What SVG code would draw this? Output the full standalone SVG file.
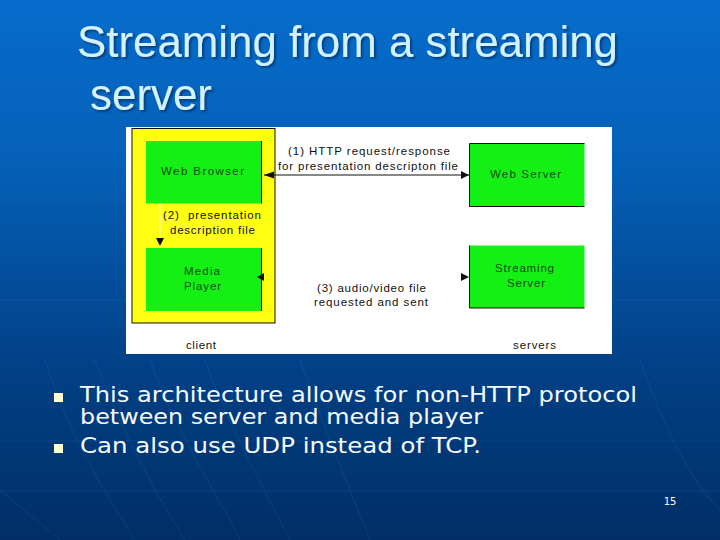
<svg xmlns="http://www.w3.org/2000/svg" width="720" height="540" viewBox="0 0 720 540">
<style>
.d{font-family:"Liberation Sans",sans-serif;font-size:11.500px;fill:#111;lengthAdjust:spacing}
.g{fill:#14f014}
.n{fill:#0c4a10}
.t{font-family:"Liberation Sans",sans-serif;font-size:44px;fill:#d2f2ff;filter:url(#s)}
.b{font-family:"DejaVu Sans",sans-serif;font-size:22px;fill:#f6fbff}
.e{stroke:#111;stroke-width:1;fill:none}
</style>
<defs>
<linearGradient id="bg" x1="0" y1="0" x2="0" y2="1">
<stop offset="0" stop-color="#066ccc"/><stop offset=".3" stop-color="#0560b8"/><stop offset=".7" stop-color="#023f84"/><stop offset="1" stop-color="#012e66"/>
</linearGradient>
<filter id="s" x="-5%" y="-5%" width="110%" height="120%"><feDropShadow dx="2" dy="2" stdDeviation="0.8" flood-color="#033a7a" flood-opacity=".9"/></filter>
<marker id="a" markerUnits="userSpaceOnUse" markerWidth="9" markerHeight="9" refX="8" refY="4" orient="auto"><path d="M0 0L8 4L0 8Z" fill="#111"/></marker>
</defs>
<rect width="720" height="540" fill="url(#bg)"/>
<g fill="none" stroke="#2a78c4" stroke-opacity=".22">
<path d="M45 360C70 440 110 500 135 540M95 360C125 440 160 500 185 540M150 360C175 430 215 490 240 540M205 360C230 430 265 490 290 540M300 360C325 430 350 490 370 540M0 490L60 540M640 360C665 430 690 480 720 510"/>
<path d="M0 441H720M0 491H720M612 200H720M612 300H720M0 200H126M0 300H126"/>
</g>
<g id="figure">
<rect x="126" y="127" width="486" height="227" fill="#fff"/>
<rect x="132" y="128.500" width="143" height="194.500" fill="#ffff14" stroke="#111"/>
</g>
<g id="web-browser"><path class="g" d="M146 141H261.500V203.500H146Z"/><path class="e" d="M261.500 141V203.500"/><text class="d n" x="161" y="175" textLength="83">Web Browser</text></g>
<g id="media-player"><path class="g" d="M146 248H261.500V311H146Z"/><path class="e" d="M261.500 248V311"/><text class="d n" x="184" y="275" textLength="36">Media</text><text class="d n" x="184" y="290" textLength="37">Player</text></g>
<g id="web-server"><rect class="g" x="469.500" y="143.500" width="115" height="63"/><path class="e" d="M469.500 206.500V143.500H584.500M469.500 206.500H584.500"/><text class="d n" x="490" y="178" textLength="71">Web Server</text></g>
<g id="streaming-server"><rect class="g" x="469.500" y="245.500" width="115" height="62.500"/><path class="e" d="M469.500 245.500V308H584.500"/><text class="d n" x="495" y="272" textLength="59">Streaming</text><text class="d n" x="507" y="287" textLength="38">Server</text></g>
<g id="connectors">
<path d="M264 175H469" class="e" marker-end="url(#a)"/>
<path d="M264 175L274 171.500V178.500Z" fill="#111"/>
<path d="M160 204V246" stroke="#ffffa8" fill="none" marker-end="url(#a)"/>
<path d="M264 273V281L257 277Z" fill="#111"/>
<path d="M461 273V281L469 277Z" fill="#111"/>
</g>
<g id="labels">
<text class="d" x="288" y="155" textLength="162">(1) HTTP request/response</text>
<text class="d" x="278" y="170" textLength="180">for presentation descripton file</text>
<text class="d" x="163" y="219" textLength="98" xml:space="preserve">(2)  presentation</text>
<text class="d" x="170" y="234" textLength="85">description file</text>
<text class="d" x="317" y="292" textLength="109">(3) audio/video file</text>
<text class="d" x="314" y="306" textLength="114">requested and sent</text>
<text class="d" x="186" y="349" textLength="30">client</text>
<text class="d" x="513" y="349" textLength="43">servers</text>
</g>
<text class="t" x="77" y="57" textLength="541" lengthAdjust="spacingAndGlyphs">Streaming from a streaming</text>
<text class="t" x="90" y="110" textLength="122" lengthAdjust="spacingAndGlyphs">server</text>
<rect x="54" y="393" width="9" height="9" fill="#ffffd0"/>
<rect x="54" y="444" width="9" height="9" fill="#ffffd0"/>
<text class="b" x="80" y="402" textLength="557" lengthAdjust="spacingAndGlyphs">This architecture allows for non-HTTP protocol</text>
<text class="b" x="80" y="424" textLength="403" lengthAdjust="spacingAndGlyphs">between server and media player</text>
<text class="b" x="80" y="453" textLength="401" lengthAdjust="spacingAndGlyphs">Can also use UDP instead of TCP.</text>
<text x="670" y="505" font-family="'DejaVu Sans',sans-serif" font-size="10" fill="#fff" text-anchor="middle">15</text>
</svg>
